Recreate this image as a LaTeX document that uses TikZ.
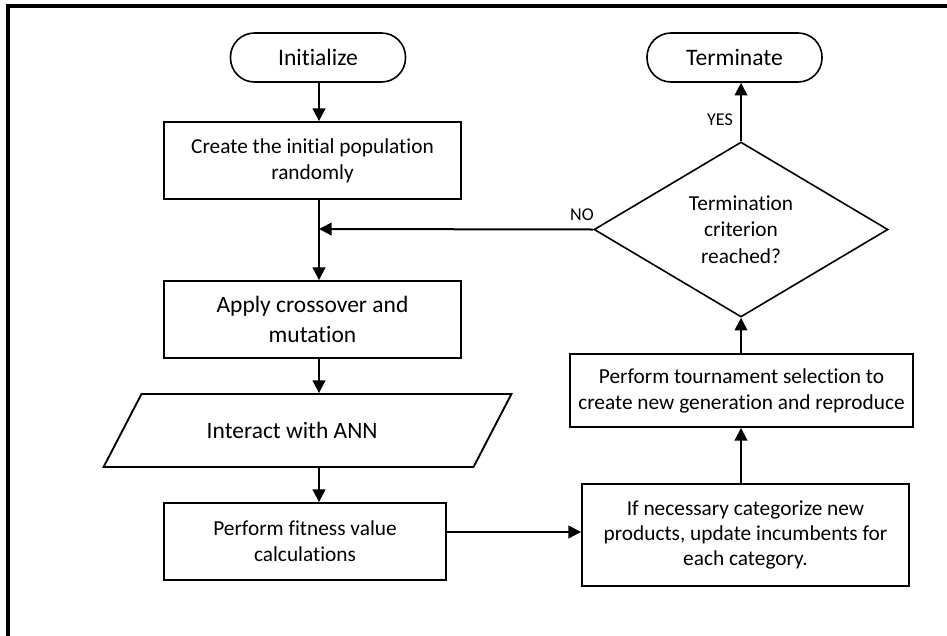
\documentclass[tikz,border=0pt]{standalone}
\usepackage{fontspec}
\setmainfont{Carlito}[Ligatures={NoCommon}]
\usetikzlibrary{shapes.geometric,arrows.meta}
\begin{document}
\begin{tikzpicture}[x=0.75pt,y=-0.75pt,
  box/.style={draw,line width=1.4pt,minimum width=#1*0.75pt,align=center,inner sep=0pt},
  term/.style={draw,line width=1.2pt,rounded corners=18pt,minimum width=175*0.75pt,minimum height=49*0.75pt,inner sep=0pt,font=\fontsize{17.7}{20}\selectfont},
  arr/.style={line width=1.5pt,-{Triangle[length=9.5pt,width=9.5pt]}},
  lbl/.style={font=\fontsize{13.5}{15}\selectfont,inner sep=1pt},
  small/.style={font=\fontsize{16}{19.5}\selectfont},
  big/.style={font=\fontsize{17.6}{22.5}\selectfont}]
\useasboundingbox (0,0) rectangle (947,636);
\draw[line width=2.3pt] (8,636) -- (8,6) -- (947,6);
\node[term] (init) at (318,57.5) {Initialize};
\node[term] (term) at (734.5,57.5) {Terminate};
\node[box=297,minimum height=77*0.75pt,small] (create) at (312.5,160.5) {Create the initial population\\randomly};
\node[box=297,minimum height=77*0.75pt,big] (apply) at (312.5,319.5) {Apply crossover and\\mutation};
\node[draw,line width=1.4pt,trapezium,trapezium left angle=35.6,trapezium right angle=144.4,minimum width=409*0.75pt,trapezium stretches=true,minimum height=73*0.75pt,inner sep=0pt,big] (ann) at (307.5,430.5) {Interact with ANN\hspace*{23pt}};
\node[box=282,minimum height=77*0.75pt,small] (fit) at (305,541.5) {Perform fitness value\\calculations};
\node[box=327,minimum height=102*0.75pt,font=\fontsize{16}{18.75}\selectfont] (cat) at (745.5,535) {If necessary categorize new\\products, update incumbents for\\each category.};
\node[box=343,minimum height=73*0.75pt,small] (tour) at (741.5,390.5) {Perform tournament selection to\\create new generation and reproduce};
\node[draw,line width=1.2pt,diamond,aspect=1.68,minimum width=294*0.75pt,minimum height=175*0.75pt,inner sep=0pt] (dec) at (741,229.5) {};
\node[align=center,font=\fontsize{16}{20}\selectfont] (dectext) at (dec.center) {Termination\\criterion\\reached?};
\coordinate (j) at (319,229);
\draw[arr] (init.south -| 319,0) -- (create.north -| 319,0);
\draw[line width=1.5pt] (create.south -| 319,0) -- (j);
\draw[arr] (j) -- (apply.north -| 319,0);
\draw[arr] (apply.south -| 319,0) -- (ann.north -| 319,0);
\draw[arr] (ann.south -| 319,0) -- (fit.north -| 319,0);
\draw[arr] (fit.east |- 0,532) -- (cat.west |- 0,532);
\draw[arr] (cat.north -| 741,0) -- (tour.south -| 741,0);
\draw[arr] (tour.north -| 741,0) -- (dec.south);
\draw[arr] (dec.north) -- (term.south -| dec.north);
\node[lbl] (yes) at (720,120) {YES};
\draw[arr] (dec.west) -- (j);
\node[lbl] (no) at (582,215) {NO};
\end{tikzpicture}
\end{document}
